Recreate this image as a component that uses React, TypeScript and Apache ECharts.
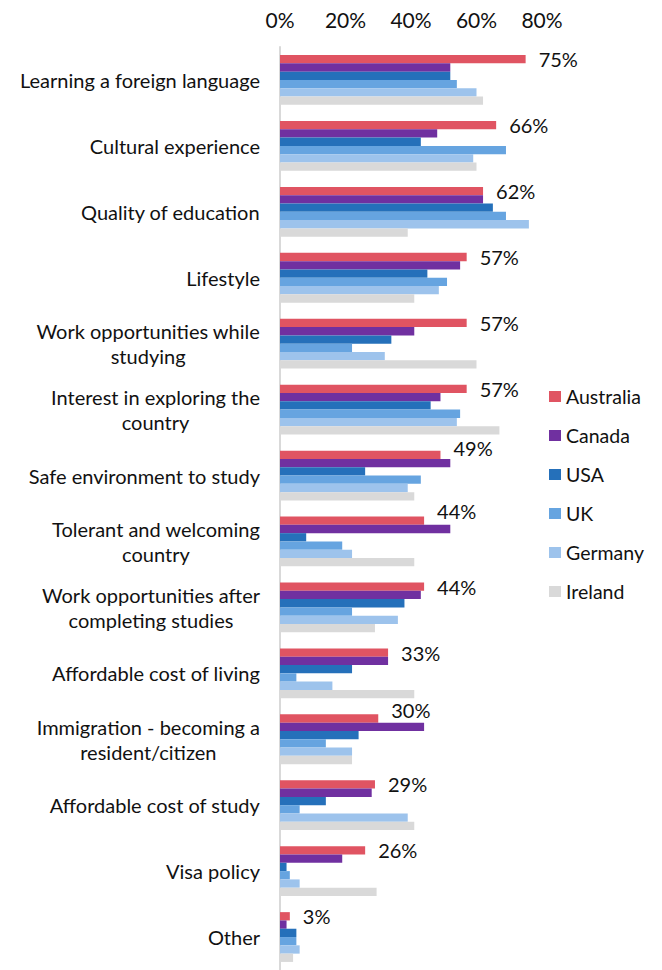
import React, { useEffect, useRef } from "react";
import * as echarts from "echarts";

const categories = [
  "Learning a foreign language",
  "Cultural experience",
  "Quality of education",
  "Lifestyle",
  "Work opportunities while\nstudying",
  "Interest in exploring the\ncountry",
  "Safe environment to study",
  "Tolerant and welcoming\ncountry",
  "Work opportunities after\ncompleting studies",
  "Affordable cost of living",
  "Immigration - becoming a\nresident/citizen",
  "Affordable cost of study",
  "Visa policy",
  "Other",
];

const australia = [75, 66, 62, 57, 57, 57, 49, 44, 44, 33, 30, 29, 26, 3];
const canada = [52, 48, 62, 55, 41, 49, 52, 52, 43, 33, 44, 28, 19, 2];
const usa = [52, 43, 65, 45, 34, 46, 26, 8, 38, 22, 24, 14, 2, 5];
const uk = [54, 69, 69, 51, 22, 55, 43, 19, 22, 5, 14, 6, 3, 5];
const germany = [60, 59, 76, 48.5, 32, 54, 39, 22, 36, 16, 22, 39, 6, 6];
const ireland = [62, 60, 39, 41, 60, 67, 41, 41, 29, 41, 22, 41, 29.5, 4];

const seriesNames = ["Australia", "Canada", "USA", "UK", "Germany", "Ireland"];
const seriesColors = ["#E05462", "#7030A0", "#2570BA", "#66A4E0", "#9DC3EC", "#D9D9D9"];
const xTicks = [0, 20, 40, 60, 80];

// label vertical shifts (px) where the label sits above the bar to clear a longer bar below
const labelShift: Record<number, number> = { 6: -7, 7: -10, 10: -9 };

const FONT = "Lato, 'Open Sans', sans-serif";

export default function App() {
  const ref = useRef<HTMLDivElement>(null);
  useEffect(() => {
    document.body.style.margin = "0";
    if (!ref.current) return;
    const chart = echarts.init(ref.current, undefined, { renderer: "svg" });
    const data = [australia, canada, usa, uk, germany, ireland];
    chart.setOption({
      animation: false,
      textStyle: { fontFamily: FONT, color: "#111" },
      grid: { left: 280, right: 120, top: 47, height: 927, containLabel: false },
      legend: {
        orient: "vertical",
        left: 544,
        top: 381,
        itemWidth: 12,
        itemHeight: 11,
        itemGap: 18,
        icon: "rect",
        data: seriesNames,
        textStyle: { fontFamily: FONT, fontSize: 19.5, color: "#111", lineHeight: 21 },
      },
      xAxis: {
        type: "value",
        position: "top",
        min: xTicks[0],
        max: xTicks[xTicks.length - 1],
        interval: 20,
        axisLine: { show: false },
        axisTick: { show: false },
        splitLine: { show: false },
        axisLabel: {
          formatter: "{value}%",
          fontSize: 21,
          color: "#111",
          margin: 17,
          fontFamily: FONT,
        },
      },
      yAxis: {
        type: "category",
        inverse: true,
        data: categories,
        axisTick: { show: false },
        axisLine: { show: true, lineStyle: { color: "#D9D9D9", width: 2 } },
        axisLabel: {
          margin: 20,
          fontSize: 20,
          color: "#111",
          fontFamily: FONT,
          lineHeight: 25,
          formatter: (v: string) =>
            v
              .split("\n")
              .map((l) => `{c|${l}}`)
              .join("\n"),
          rich: {
            c: { align: "center", fontSize: 20, fontFamily: FONT, color: "#111", lineHeight: 25 },
          },
        },
      },
      series: seriesNames.map((name, i) => ({
        name,
        type: "bar",
        data:
          i === 0
            ? data[i].map((v, j) =>
                labelShift[j] !== undefined ? { value: v, label: { offset: [0, labelShift[j]] } } : v
              )
            : data[i],
        barWidth: 8.3,
        barGap: "0%",
        itemStyle: { color: seriesColors[i] },
        label:
          i === 0
            ? {
                show: true,
                position: "right",
                distance: 13,
                formatter: "{c}%",
                fontSize: 20,
                color: "#111",
                fontFamily: FONT,
              }
            : { show: false },
      })),
    });
    return () => chart.dispose();
  }, []);
  return <div ref={ref} style={{ width: 662, height: 970 }} />;
}
